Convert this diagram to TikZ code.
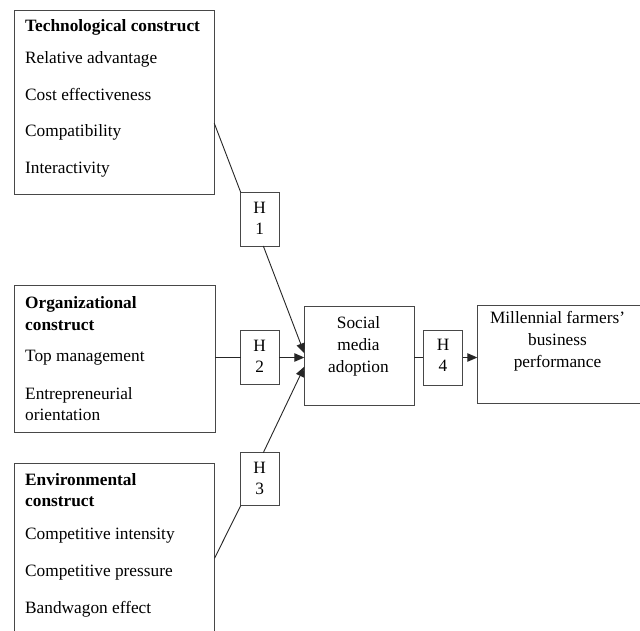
\documentclass[tikz,border=0pt]{standalone}
\usepackage{fontspec}
\setmainfont{Liberation Serif}
\usetikzlibrary{arrows.meta}
\begin{document}
\begin{tikzpicture}[x=1pt,y=-1pt,
  box/.style={draw=black!72, line width=0.9pt, rectangle, inner sep=0pt, outer sep=0pt, anchor=north west},
  txt/.style={anchor=base west, inner sep=0pt, font=\fontsize{17.3}{21}\selectfont},
  ctxt/.style={anchor=base, inner sep=0pt, font=\fontsize{17.3}{21}\selectfont},
  btxt/.style={anchor=base west, inner sep=0pt, font=\fontsize{17.3}{21}\selectfont\bfseries},
  conn/.style={draw=black!85, line width=0.9pt},
  arr/.style={conn, -{Triangle[length=10pt,width=8.5pt]}}]
\useasboundingbox (0,0) rectangle (640,630);
\clip (0,0) rectangle (640,630);
\fill[white] (0,0) rectangle (640,630);

% construct boxes
\node[box, minimum width=200.3pt, minimum height=184pt] (tech) at (14,10) {};
\node[box, minimum width=201pt, minimum height=147pt] (org) at (14,285.7) {};
\node[box, minimum width=200.3pt, minimum height=180pt] (env) at (14,463.3) {};

% hypothesis boxes
\node[box, minimum width=38.6pt, minimum height=53.7pt] (h1) at (240.7,192.3) {};
\node[box, minimum width=38.6pt, minimum height=53.6pt] (h2) at (240.7,330.7) {};
\node[box, minimum width=38.6pt, minimum height=53pt] (h3) at (240.7,452.7) {};
\node[box, minimum width=39.4pt, minimum height=54.3pt] (h4) at (423.3,330.7) {};

% outcome boxes
\node[box, minimum width=109.7pt, minimum height=98.3pt] (sma) at (304.3,306.7) {};
\node[box, minimum width=170pt, minimum height=98.3pt] (mfp) at (477.3,305) {};

% texts: technological
\node[btxt] (t0) at (25,31.5) {Technological construct};
\node[txt] (t1) at (25,63.3) {Relative advantage};
\node[txt] (t2) at (25,100) {Cost effectiveness};
\node[txt] (t3) at (25,136.8) {Compatibility};
\node[txt] (t4) at (25,173.3) {Interactivity};

% organizational
\node[btxt] (o0) at (25,308.3) {Organizational};
\node[btxt] (o1) at (25,330) {construct};
\node[txt] (o2) at (25,361.7) {Top management};
\node[txt] (o3) at (25,399.3) {Entrepreneurial};
\node[txt] (o4) at (25,420.5) {orientation};

% environmental
\node[btxt] (e0) at (25,485) {Environmental};
\node[btxt] (e1) at (25,506.7) {construct};
\node[txt] (e2) at (25,539.3) {Competitive intensity};
\node[txt] (e3) at (25,576.5) {Competitive pressure};
\node[txt] (e4) at (25,613.5) {Bandwagon effect};

% hypothesis labels
\node[ctxt] (h1a) at (259.6,213.3) {H};
\node[ctxt] (h1b) at (259.6,234) {1};
\node[ctxt] (h2a) at (259.6,351.5) {H};
\node[ctxt] (h2b) at (259.6,372.5) {2};
\node[ctxt] (h3a) at (259.6,473.3) {H};
\node[ctxt] (h3b) at (259.6,494) {3};
\node[ctxt] (h4a) at (443,350) {H};
\node[ctxt] (h4b) at (443,371.7) {4};

% social media adoption
\node[ctxt] (s0) at (358.5,328.3) {Social};
\node[ctxt] (s1) at (358.5,350) {media};
\node[ctxt] (s2) at (358.5,372) {adoption};

% millennial
\node[ctxt] (m0) at (557.5,323.3) {Millennial farmers’};
\node[ctxt] (m1) at (557.5,345) {business};
\node[ctxt] (m2) at (557.5,367.5) {performance};

% connector endpoints
\coordinate (techout) at (214.3,123.3);
\coordinate (h1out) at (263.3,246);
\coordinate (in1) at (304.3,353.3);
\coordinate (orgout) at (215,357.5);
\coordinate (in2) at (304.3,357.5);
\coordinate (envout) at (214.5,558.3);
\coordinate (h3out) at (263.3,452.7);
\coordinate (in3) at (304.3,366.7);
\coordinate (smaout) at (414,357.5);
\coordinate (h4in) at (423.3,357.5);
\coordinate (h4out) at (462.7,357.5);
\coordinate (mfpin) at (477.3,357.5);

% connectors
\draw[conn] (techout) -- (h1.north west);
\draw[arr] (h1out) -- (in1);
\draw[conn] (orgout) -- (h2.west);
\draw[arr] (h2.east) -- (in2);
\draw[conn] (envout) -- (h3.south west);
\draw[arr] (h3out) -- (in3);
\draw[conn] (smaout) -- (h4in);
\draw[arr] (h4out) -- (mfpin);
\end{tikzpicture}
\end{document}
